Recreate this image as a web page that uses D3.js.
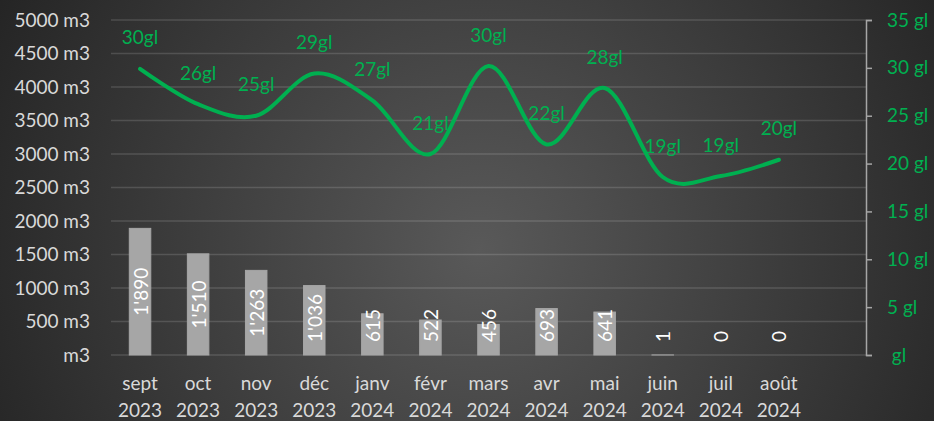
<!DOCTYPE html>
<html>
<head>
<meta charset="utf-8">
<script src="https://cdn.jsdelivr.net/npm/d3@7"></script>
<style>
  body { margin: 0; background: #262626; }
  svg text { font-family: Lato, "Open Sans", sans-serif; }
</style>
</head>
<body>
<div id="chart"></div>
<script>
const months = ["sept", "oct", "nov", "déc", "janv", "févr", "mars", "avr", "mai", "juin", "juil", "août"];
const years = ["2023", "2023", "2023", "2023", "2024", "2024", "2024", "2024", "2024", "2024", "2024", "2024"];
const volumes = [1890, 1510, 1263, 1036, 615, 522, 456, 693, 641, 1, 0, 0];
const degrees = [29.9, 26.2, 25.0, 29.4, 26.6, 21.0, 30.2, 22.0, 27.9, 18.6, 18.7, 20.4];
const leftTicks = [0, 500, 1000, 1500, 2000, 2500, 3000, 3500, 4000, 4500, 5000];
const rightTicks = [0, 5, 10, 15, 20, 25, 30, 35];

const w = 934;
const h = 421;
const plotLeft = 111, plotRight = 866, plotTop = 20, plotBottom = 355;
const green = "#00b050";
const grey = "#d9d9d9";

const svg = d3.select("#chart").append("svg")
  .attr("width", w)
  .attr("height", h);

// background radial gradient
const grad = svg.append("defs").append("radialGradient")
  .attr("id", "bg")
  .attr("gradientUnits", "userSpaceOnUse")
  .attr("cx", 480).attr("cy", 250).attr("r", 560);
grad.append("stop").attr("offset", "0%").attr("stop-color", "#595959");
grad.append("stop").attr("offset", "100%").attr("stop-color", "#232323");
svg.append("rect").attr("width", w).attr("height", h).attr("fill", "url(#bg)");

// 12 months + one empty slot at the end, like the original
const step = (plotRight - plotLeft) / (months.length + 1);
const x = d3.scaleBand()
  .domain(months.map((m, i) => i))
  .range([plotLeft, plotRight - step])
  .padding(0);
const cx = i => x(i) + x.bandwidth() / 2;

const y = d3.scaleLinear().domain([0, 5000]).range([plotBottom, plotTop]);
const yR = d3.scaleLinear().domain([0, 35]).range([plotBottom, plotTop]);

// gridlines
svg.append("g")
  .selectAll("line")
  .data(leftTicks)
  .enter()
  .append("line")
  .attr("x1", plotLeft)
  .attr("x2", plotRight)
  .attr("y1", d => y(d))
  .attr("y2", d => y(d))
  .attr("stroke", "rgba(255,255,255,0.14)")
  .attr("stroke-width", 1.3);

// left axis
const gl = svg.append("g")
  .attr("transform", `translate(${plotLeft},0)`)
  .call(d3.axisLeft(y).tickValues(leftTicks).tickSize(0).tickPadding(21)
    .tickFormat(d => d === 0 ? "m3" : d + " m3"));
gl.select(".domain").remove();
gl.selectAll("text").attr("fill", grey).style("font-size", "19px");

// right axis
const gr = svg.append("g")
  .attr("transform", `translate(${plotRight},0)`)
  .call(d3.axisRight(yR).tickValues(rightTicks).tickSize(6).tickPadding(15)
    .tickFormat(d => d === 0 ? "\u00a0gl" : d + " gl"));
gr.selectAll("path,line").attr("stroke", "#a6a6a6").attr("stroke-width", 1.5);
gr.selectAll("text").attr("fill", green).style("font-size", "19px");

// x labels
const xl = svg.append("g")
  .selectAll("text")
  .data(months)
  .enter()
  .append("text")
  .attr("text-anchor", "middle")
  .attr("fill", grey)
  .style("font-size", "19px");
xl.append("tspan").attr("x", (d, i) => cx(i)).attr("y", 390).text(d => d);
xl.append("tspan").attr("x", (d, i) => cx(i)).attr("y", 417).text((d, i) => years[i]);

// bars (thin outline so the tiny juin bar still shows, zero bars not drawn)
const barW = x.bandwidth() * 0.37;
svg.append("g")
  .selectAll("rect")
  .data(volumes)
  .enter()
  .append("rect")
  .attr("x", (d, i) => cx(i) - barW / 2)
  .attr("y", d => y(d))
  .attr("width", barW)
  .attr("height", d => plotBottom - y(d))
  .attr("fill", "#a6a6a6")
  .attr("stroke", d => d > 0 ? "#a6a6a6" : "none")
  .attr("stroke-width", 1);

const fmt = d3.formatLocale({ decimal: ".", thousands: "'", grouping: [3], currency: ["", ""] }).format(",");

svg.append("g")
  .selectAll("text")
  .data(volumes)
  .enter()
  .append("text")
  .attr("text-anchor", "middle")
  .attr("dominant-baseline", "central")
  .attr("fill", "#ffffff")
  .style("font-size", "19px")
  .text(d => fmt(d))
  .each(function(d, i) {
    const len = this.getComputedTextLength();
    const mid = Math.min((y(d) + plotBottom) / 2, plotBottom - 13 - len / 2);
    d3.select(this).attr("transform", `translate(${cx(i)},${mid}) rotate(-90)`);
  });

// temperature line
const line = d3.line()
  .x((d, i) => cx(i))
  .y(d => yR(d))
  .curve(d3.curveCardinal.tension(0));

svg.append("path")
  .datum(degrees)
  .attr("d", line)
  .attr("fill", "none")
  .attr("stroke", green)
  .attr("stroke-width", 4)
  .attr("stroke-linecap", "round");

svg.append("g")
  .selectAll("text")
  .data(degrees)
  .enter()
  .append("text")
  .attr("x", (d, i) => cx(i))
  .attr("y", d => yR(d) - 31)
  .attr("dy", "0.35em")
  .attr("text-anchor", "middle")
  .attr("fill", green)
  .style("font-size", "19px")
  .text(d => Math.round(d) + "gl");
</script>
</body>
</html>
